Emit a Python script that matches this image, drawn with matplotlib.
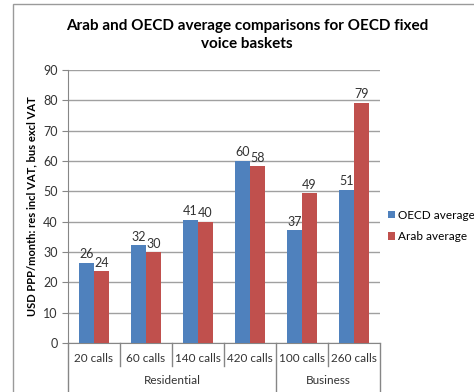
import matplotlib.pyplot as plt
from matplotlib.patches import Rectangle
from matplotlib.transforms import blended_transform_factory

plt.rcParams['font.family'] = ['Lato', 'DejaVu Sans']

calls = ["20 calls", "60 calls", "140 calls", "420 calls", "100 calls", "260 calls"]
groups = ["Residential", "Business"]
group_sizes = [4, 2]
oecd = [26.4, 32.2, 40.6, 60.1, 37.1, 50.6]
arab = [23.6, 29.9, 40.0, 58.3, 49.4, 79.2]
oecd_lbl = [26, 32, 41, 60, 37, 51]
arab_lbl = [24, 30, 40, 58, 49, 79]

blue = "#4F81BD"
red = "#C0504D"
grey = "#868686"

fig = plt.figure(figsize=(4.74, 3.92), dpi=100)
fig.patches.append(Rectangle((13/474, -0.1), 1.2, 1.1 - 4/392, transform=fig.transFigure,
                             fill=False, edgecolor="#9a9a9a", lw=1.0))
ax = fig.add_axes([68/474, 1-343/392, 312/474, 273/392])

w = 0.29
x = list(range(len(calls)))
ax.bar([i - w/2 for i in x], oecd, width=w, color=blue, label="OECD average", zorder=3)
ax.bar([i + w/2 for i in x], arab, width=w, color=red, label="Arab average", zorder=3)
for i in x:
    ax.text(i - w/2, oecd[i] + 0.8, str(oecd_lbl[i]), ha="center", va="bottom", fontsize=9, color="#333333")
    ax.text(i + w/2, arab[i] + 0.8, str(arab_lbl[i]), ha="center", va="bottom", fontsize=9, color="#333333")

ax.set_xlim(-0.5, len(calls) - 0.5)
ax.set_ylim(0, 90)
ax.set_yticks(range(0, 91, 10))
ax.tick_params(axis="y", labelsize=9, colors=grey, labelcolor="#333333", length=4, direction="out")
ax.yaxis.grid(True, color="#a0a0a0", lw=1, zorder=0)
ax.set_xticks([])
for s in ["top", "right"]:
    ax.spines[s].set_visible(False)
ax.spines["left"].set_color(grey)
ax.spines["bottom"].set_color(grey)
ax.set_ylabel("USD PPP/month: res incl VAT, bus excl VAT", fontsize=8, fontweight="bold", labelpad=4)

# two level category axis
tr = blended_transform_factory(ax.transData, fig.transFigure)
y0 = 1 - 343/392
for i, c in enumerate(calls):
    ax.text(i, 1 - 358/392, c, transform=tr, ha="center", va="center", fontsize=8.5, color="#333333")
bounds = [0]
for n in group_sizes:
    bounds.append(bounds[-1] + n)
for b in range(len(calls) + 1):
    low = 0.0 if b in bounds else 1 - 366/392
    ax.plot([b - 0.5, b - 0.5], [y0, low], transform=tr, color=grey, lw=1, clip_on=False)
for g, a, b in zip(groups, bounds[:-1], bounds[1:]):
    ax.text((a + b - 1) / 2, 1 - 381/392, g, transform=tr, ha="center", va="center", fontsize=8.5, color="#333333")

fig.legend(loc="upper left", bbox_to_anchor=(383/474, 1 - 205/392), frameon=False, fontsize=8.5,
           handlelength=0.6, handleheight=0.6, handletextpad=0.3, labelspacing=0.9, borderaxespad=0)

fig.text(247/474, 1 - 35/392, "Arab and OECD average comparisons for OECD fixed\nvoice baskets",
         ha="center", va="center", fontsize=11, fontweight="bold", linespacing=1.35)

fig.savefig("out.png", dpi=100)
